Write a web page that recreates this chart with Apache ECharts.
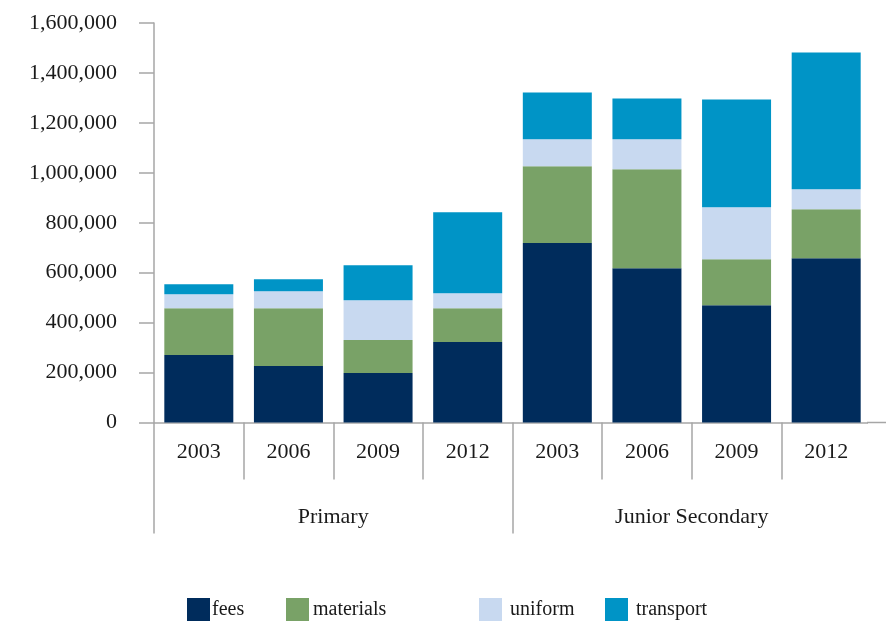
<!DOCTYPE html>
<html>
<head>
<meta charset="utf-8">
<script src="https://cdn.jsdelivr.net/npm/echarts@6/dist/echarts.min.js"></script>
<style>
  html, body { margin: 0; padding: 0; background: #fff; }
  #chart { width: 887px; height: 623px; }
</style>
</head>
<body>
<div id="chart"></div>
<script>
const years = ['2003', '2006', '2009', '2012', '2003', '2006', '2009', '2012']
const groups = ['Primary', 'Junior Secondary']
const fees = [270000, 226000, 198000, 322000, 719000, 618000, 470000, 658000]
const materials = [188000, 232000, 132000, 136000, 307000, 396000, 184000, 196000]
const uniform = [56000, 68000, 160000, 60000, 108000, 120000, 208000, 80000]
const transport = [40000, 48000, 140000, 324000, 188000, 164000, 432000, 548000]

const font = 'Liberation Serif'
const axisGrey = '#a6a6a6'
const colors = { fees: '#002c5c', materials: '#79a267', uniform: '#c8d9f0', transport: '#0094c6' }

const gridLeft = 154
const gridTop = 23
const gridWidth = 717
const gridHeight = 399.5
const gridRight = gridLeft + gridWidth
const axisY = gridTop + gridHeight

const chart = echarts.init(document.getElementById('chart'))

function legendAt(name, left, gap) {
  return {
    data: [name],
    left: left,
    top: 598,
    icon: 'rect',
    itemWidth: 23,
    itemHeight: 23,
    itemGap: 0,
    textStyle: { fontFamily: font, fontSize: 20, color: '#1a1a1a', padding: [0, 0, 0, gap] },
    padding: 0,
    selectedMode: false,
  }
}

chart.setOption({
  animation: false,
  legend: [
    legendAt('fees', 187, -3),
    legendAt('materials', 286, -1),
    legendAt('uniform', 479, 3),
    legendAt('transport', 605, 3),
  ],
  grid: { left: gridLeft, top: gridTop, width: gridWidth, height: gridHeight },
  xAxis: [
    {
      type: 'category',
      position: 'bottom',
      data: years,
      axisLine: { show: true, lineStyle: { color: axisGrey, width: 1.5 } },
      axisTick: { show: true, interval: 0, length: 57, lineStyle: { color: axisGrey, width: 1.5 } },
      axisLabel: { interval: 0, margin: 19, fontFamily: font, fontSize: 22, color: '#1a1a1a' },
    },
    {
      type: 'category',
      position: 'bottom',
      data: groups,
      axisLine: { show: false },
      axisTick: { show: true, interval: 0, length: 111, lineStyle: { color: axisGrey, width: 1.5 } },
      axisLabel: { interval: 0, margin: 84, fontFamily: font, fontSize: 22, color: '#1a1a1a' },
    },
  ],
  yAxis: {
    type: 'value',
    min: 0,
    max: 1600000,
    interval: 200000,
    splitLine: { show: false },
    axisLine: { show: true, lineStyle: { color: axisGrey, width: 1.5 } },
    axisTick: { show: true, length: 15, lineStyle: { color: axisGrey, width: 1.5 } },
    axisLabel: {
      margin: 37,
      fontFamily: font,
      fontSize: 22,
      color: '#1a1a1a',
      formatter: (v) => v.toLocaleString('en-US'),
    },
  },
  // the source has no closing tick at the right end and its axis line runs on to the edge
  graphic: [
    { type: 'rect', z: 100, shape: { x: gridRight - 3, y: axisY + 0.5, width: 6, height: 116 }, style: { fill: '#fff' } },
    { type: 'line', z: 101, shape: { x1: gridRight - 4, y1: axisY, x2: 886, y2: axisY }, style: { stroke: axisGrey, lineWidth: 1.5 } },
  ],
  series: [
    { name: 'fees', type: 'bar', stack: 'total', barWidth: 69, data: fees, itemStyle: { color: colors.fees } },
    { name: 'materials', type: 'bar', stack: 'total', barWidth: 69, data: materials, itemStyle: { color: colors.materials } },
    { name: 'uniform', type: 'bar', stack: 'total', barWidth: 69, data: uniform, itemStyle: { color: colors.uniform } },
    { name: 'transport', type: 'bar', stack: 'total', barWidth: 69, data: transport, itemStyle: { color: colors.transport } },
  ],
})
</script>
</body>
</html>
